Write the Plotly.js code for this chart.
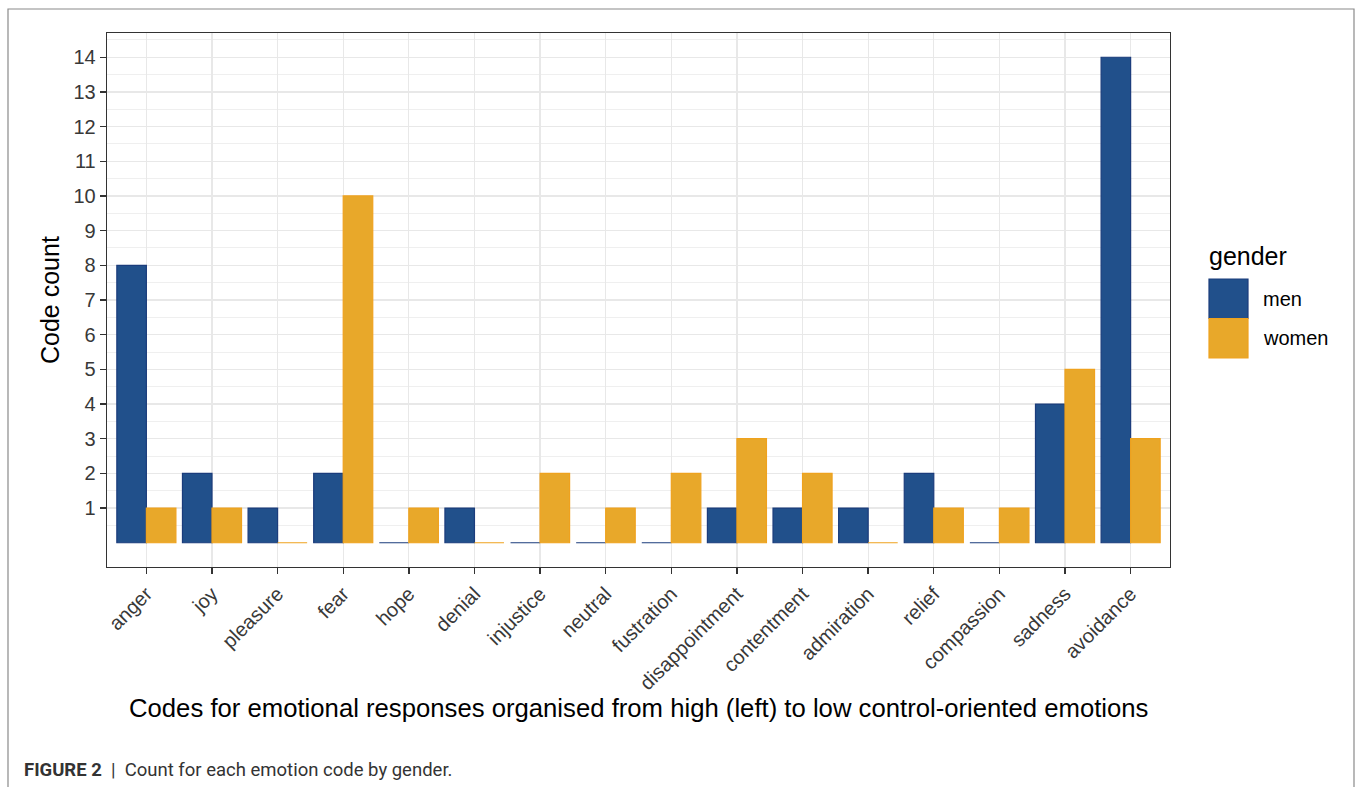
<!DOCTYPE html>
<html>
<head>
<meta charset="utf-8">
<script src="https://cdn.plot.ly/plotly-3.0.1.min.js"></script>
<style>
html,body{margin:0;padding:0;background:#fff;}
#chart{width:1355px;height:787px;}
</style>
</head>
<body>
<div id="chart"></div>
<script>
// ---- data ----
const categories = ["anger","joy","pleasure","fear","hope","denial","injustice","neutral","fustration","disappointment","contentment","admiration","relief","compassion","sadness","avoidance"];
const menCounts   = [8, 2, 1, 2, 0, 1, 0, 0, 0, 1, 1, 1, 2, 0, 4, 14];
const womenCounts = [1, 1, 0, 10, 1, 0, 2, 1, 2, 3, 2, 0, 1, 1, 5, 3];
const seriesNames = ["men", "women"];
const yTickValues = [1,2,3,4,5,6,7,8,9,10,11,12,13,14];

// ---- styles ----
const fillColors = ["#21508B", "#E8A82A"];
const lineColors = ["#1B3C7C", "#EFA21E"];
const FONT = "Liberation Sans, Arial, Helvetica, sans-serif";
const TICKCOL = "#383838";

const traces = [menCounts, womenCounts].map((vals, i) => ({
  type: "bar",
  name: seriesNames[i],
  x: categories,
  y: vals,
  marker: {color: fillColors[i], line: {color: lineColors[i], width: 1.2}},
  showlegend: false,
  hoverinfo: "x+y+name"
}));

// panel geometry in px (used to convert to paper coords for decorations)
const W = 1355, H = 787;
const L = 107, R = 1170, T = 33, B = 567;
const px = v => (v - L) / (R - L);
const py = v => (B - v) / (B - T);

const minorVals = yTickValues.map(v => v - 0.5).concat([yTickValues[yTickValues.length-1] + 0.5]);

const shapes = [
  // outer frame
  {type:"rect", xref:"paper", yref:"paper", x0:px(8), x1:px(1354), y0:py(800), y1:py(9),
   line:{color:"#8a8a8a", width:1.2}, fillcolor:"rgba(0,0,0,0)", layer:"below"}
];
const annotations = [
  {text:"Codes for emotional responses organised from high (left) to low control-oriented emotions",
   xref:"paper", yref:"paper", x:0.5, y:py(708), xanchor:"center", yanchor:"middle", showarrow:false,
   font:{family:FONT, size:25.7, color:"#000"}},
  {text:"Code count", xref:"paper", yref:"paper", x:px(50), y:py(300), xanchor:"center", yanchor:"middle",
   textangle:-90, showarrow:false, font:{family:FONT, size:25, color:"#000"}},
  {text:"gender", xref:"paper", yref:"paper", x:px(1207), y:py(256), xanchor:"left", yanchor:"middle",
   showarrow:false, font:{family:FONT, size:25, color:"#000"}},
  {text:"<b>FIGURE 2</b>  |  Count for each emotion code by gender.", xref:"paper", yref:"paper",
   x:px(22), y:py(770), xanchor:"left", yanchor:"middle", showarrow:false,
   font:{family:"Roboto, Liberation Sans, sans-serif", size:18.5, color:"#333"}}
];
// legend keys
const keyTop = 279, keyH = 39.5;
seriesNames.forEach((n, i) => {
  const y0 = keyTop + i * keyH, y1 = y0 + keyH;
  shapes.push({type:"rect", xref:"paper", yref:"paper", x0:px(1209), x1:px(1248), y0:py(y1), y1:py(y0),
    fillcolor:fillColors[i], line:{color:lineColors[i], width:1.2}});
  annotations.push({text:n, xref:"paper", yref:"paper", x:px(1261), y:py((y0+y1)/2), xanchor:"left",
    yanchor:"middle", showarrow:false, font:{family:FONT, size:20, color:"#000"}});
});

const layout = {
  width: W, height: H,
  margin: {l: L, r: W - R, t: T, b: H - B, pad: 0},
  paper_bgcolor: "#fff", plot_bgcolor: "#fff",
  barmode: "group", bargap: 0.1, bargroupgap: 0,
  showlegend: false,
  font: {family: FONT, color: TICKCOL},
  xaxis: {
    type: "category", range: [-0.6, categories.length - 0.4],
    tickangle: -45, tickfont: {family: FONT, size: 20, color: TICKCOL},
    ticks: "outside", ticklen: 6, tickwidth: 1.4, tickcolor: "#333",
    showgrid: true, gridcolor: "#E8E8E8", gridwidth: 1.3,
    showline: true, linecolor: "#333", linewidth: 1.3, mirror: true,
    zeroline: false, automargin: false
  },
  yaxis: {
    range: [-0.7, 14.7], tickmode: "array", tickvals: yTickValues, ticktext: yTickValues.map(String),
    tickfont: {family: FONT, size: 20, color: TICKCOL},
    ticks: "outside", ticklen: 6, tickwidth: 1.4, tickcolor: "#333",
    showgrid: true, gridcolor: "#E8E8E8", gridwidth: 1.3,
    minor: {tickmode: "array", tickvals: minorVals, showgrid: true, gridcolor: "#EDEDED", gridwidth: 0.9, ticks: ""},
    showline: true, linecolor: "#333", linewidth: 1.3, mirror: true,
    zeroline: false, automargin: false
  },
  shapes: shapes,
  annotations: annotations
};

Plotly.newPlot("chart", traces, layout, {staticPlot: true, displayModeBar: false});
</script>
</body>
</html>
